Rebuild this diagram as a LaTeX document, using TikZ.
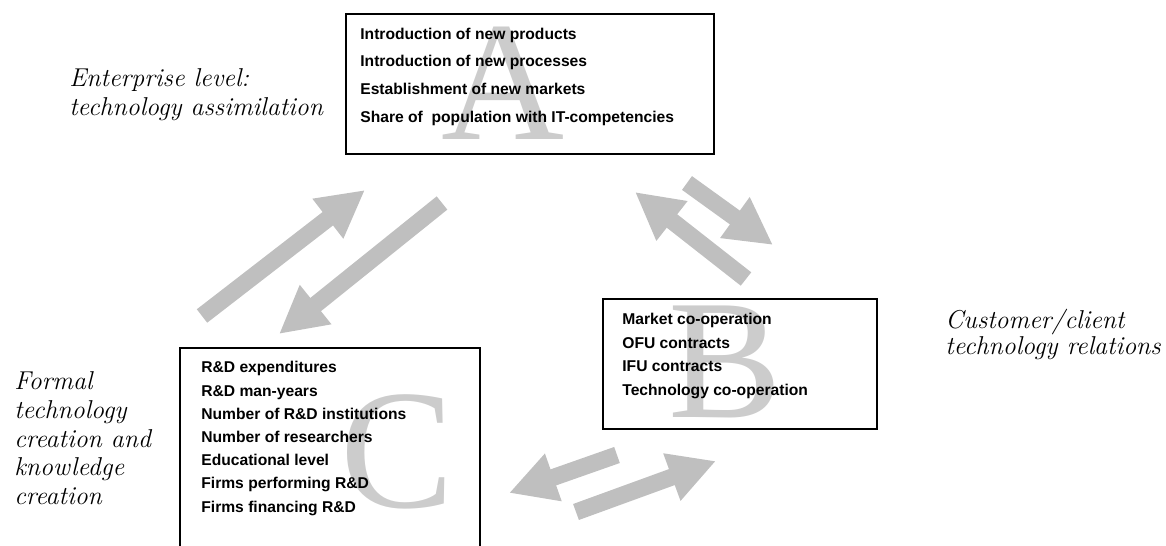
\documentclass[tikz,border=0pt]{standalone}
\usepackage{fontspec}
\newfontfamily\listfont{Liberation Sans}
\newfontfamily\letterfont{Liberation Serif}
\usetikzlibrary{positioning,arrows.meta}

\tikzset{
  box/.style={draw, line width=1pt, anchor=north west, inner sep=0pt},
  item/.style={font=\listfont\bfseries\fontsize{8.9}{10}\selectfont, anchor=base west, inner sep=0pt},
  level/.style={font=\itshape\fontsize{14.7}{17}\selectfont, anchor=base west, inner sep=0pt},
  bigletter/.style={font=\letterfont\fontsize{97}{97}\selectfont, text=black!20, anchor=base, inner sep=0pt},
  flow/.style={draw=black!25, line width=0.34cm, -{Triangle[length=0.94cm, width=0.94cm]}},
}

\begin{document}
\begin{tikzpicture}[x=0.02cm, y=-0.02cm]
    \useasboundingbox (0,0) rectangle (1166,546);
    \clip (0,0) rectangle (1166,546);

    % Letters behind the lists
    \node[bigletter] (letA) at (503,140) {A};
    \node[bigletter] (letB) at (725,418) {B};
    \node[bigletter] (letC) at (397,508) {C};

    % Box A: enterprise level
    \node[box, minimum width=7.36cm, minimum height=2.8cm] (boxA) at (345,13) {};
    \foreach \t [count=\i] in {Introduction of new products, Introduction of new processes,
        Establishment of new markets, Share of~ population with IT-competencies}
        \node[item] (itemA\i) at (360,{39.3+27.6*(\i-1)}) {\t};

    % Box B: customer/client relations
    \node[box, minimum width=5.48cm, minimum height=2.6cm] (boxB) at (602,298) {};
    \foreach \t [count=\i] in {Market co-operation, OFU contracts, IFU contracts,
        Technology co-operation}
        \node[item] (itemB\i) at (622,{325+23.5*(\i-1)}) {\t};

    % Box C: formal creation
    \node[box, minimum width=6cm, minimum height=4.4cm] (boxC) at (179,347) {};
    \foreach \t [count=\i] in {R\&D expenditures, R\&D man-years, Number of R\&D institutions,
        Number of researchers, Educational level, Firms performing R\&D, Firms financing R\&D}
        \node[item] (itemC\i) at (201,{373+23.2*(\i-1)}) {\t};

    % Level labels
    \foreach \t [count=\i] in {Enterprise level:, technology assimilation}
        \node[level] (labA\i) at (69,{87+29*(\i-1)}) {\t};
    \foreach \t [count=\i] in {Customer/client, technology relations}
        \node[level] (labB\i) at (945,{329+26*(\i-1)}) {\t};
    \foreach \t [count=\i] in {Formal, technology, creation and, knowledge, creation}
        \node[level] (labC\i) at (14,{390+28.6*(\i-1)}) {\t};

    % Arrow ends
    \coordinate (ca0) at (202,316);  \coordinate (ca1) at (365,190);
    \coordinate (ac0) at (442,203);  \coordinate (ac1) at (279,334);
    \coordinate (ba0) at (746,279);  \coordinate (ba1) at (635,192);
    \coordinate (ab0) at (687,183);  \coordinate (ab1) at (773,245);
    \coordinate (bc0) at (617,455);  \coordinate (bc1) at (509,493);
    \coordinate (cb0) at (576,512);  \coordinate (cb1) at (716,461);

    % Arrows between the levels
    \draw[flow] (ca0) -- (ca1);
    \draw[flow] (ac0) -- (ac1);
    \draw[flow] (ba0) -- (ba1);
    \draw[flow] (ab0) -- (ab1);
    \draw[flow] (bc0) -- (bc1);
    \draw[flow] (cb0) -- (cb1);
\end{tikzpicture}
\end{document}
